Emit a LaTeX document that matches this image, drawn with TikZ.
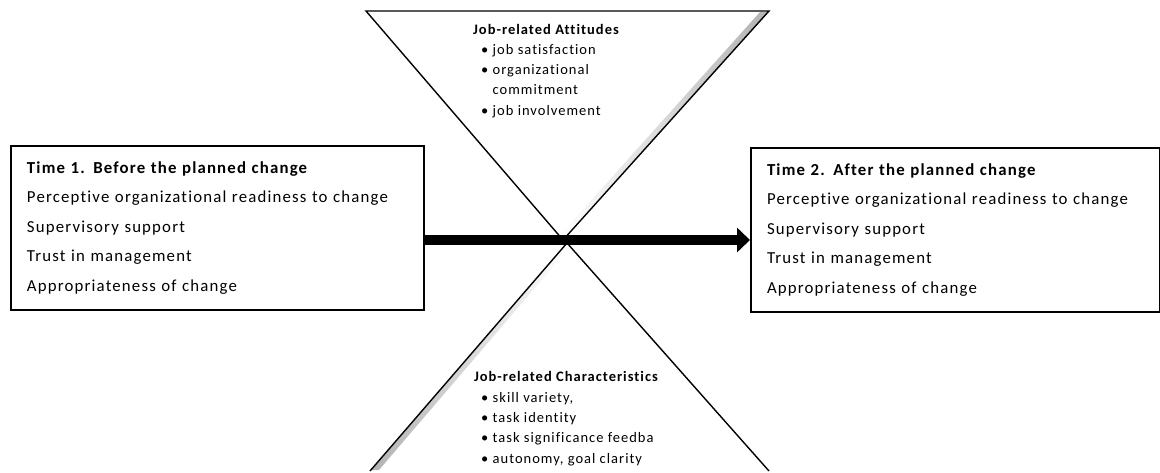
\documentclass[tikz,border=0pt]{standalone}
\usepackage{fontspec}
\setmainfont{Carlito}[LetterSpace=7, Ligatures=NoCommon]
\usetikzlibrary{positioning,arrows.meta}

\tikzset{
	timebox/.style={draw, line width=2pt, anchor=north west, align=left, inner xsep=16pt,
		font=\fontsize{16.8}{29.5}\selectfont},
	tri/.style={draw, line width=1.4pt, line join=miter},
	trishade/.style={draw=none},
	trititle/.style={font=\fontsize{14.5}{20}\selectfont\bfseries},
	trilist/.style={anchor=north west, align=left, inner sep=0pt, font=\fontsize{14.5}{20.3}\selectfont}
}

\begin{document}
\begin{tikzpicture}[x=1pt, y=-1pt, >=Stealth]
		\useasboundingbox (0,0) rectangle (1160,472);

		% top triangle
		\shade[trishade, left color=white, right color=black!30] (760,12) -- (768,12) -- (563,239) -- (560,235) -- cycle;
		\draw[tri] (366,11) -- (769,11) -- (563,240) -- cycle;
		% bottom triangle
		\shade[trishade, left color=black!30, right color=white] (371,470) -- (379,470) -- (569,248) -- (567,244) -- cycle;
		\draw[tri] (370,471) -- (567,243) -- (769,471);

		\node[trititle] (att) at (546,29) {Job-related Attitudes};
		\node[trilist] (attlist) at (481,44) {\textbullet\ job satisfaction\\
			\textbullet\ organizational\\
			\phantom{\textbullet\ }commitment\\
			\textbullet\ job involvement};

		\node[trititle] (char) at (566,376) {Job-related Characteristics};
		\node[trilist] (charlist) at (481,392) {\textbullet\ skill variety,\\
			\textbullet\ task identity\\
			\textbullet\ task significance feedba\\
			\textbullet\ autonomy, goal clarity};

		\node[timebox, minimum width=413pt, minimum height=164pt, text width=381pt] (before) at (10,145) {\textbf{Time 1. Before the planned change}\\
			Perceptive organizational readiness to change\\
			Supervisory support\\
			Trust in management\\
			Appropriateness of change};
		\node[timebox, minimum width=409pt, minimum height=164pt, text width=377pt] (after) at (750,147) {\textbf{Time 2. After the planned change}\\
			Perceptive organizational readiness to change\\
			Supervisory support\\
			Trust in management\\
			Appropriateness of change};

		\draw[->, line width=10pt, >={Triangle[length=13pt, width=24pt]}] (before.east |- 0,240) -- (after.west |- 0,240);
	\end{tikzpicture}
\end{document}
